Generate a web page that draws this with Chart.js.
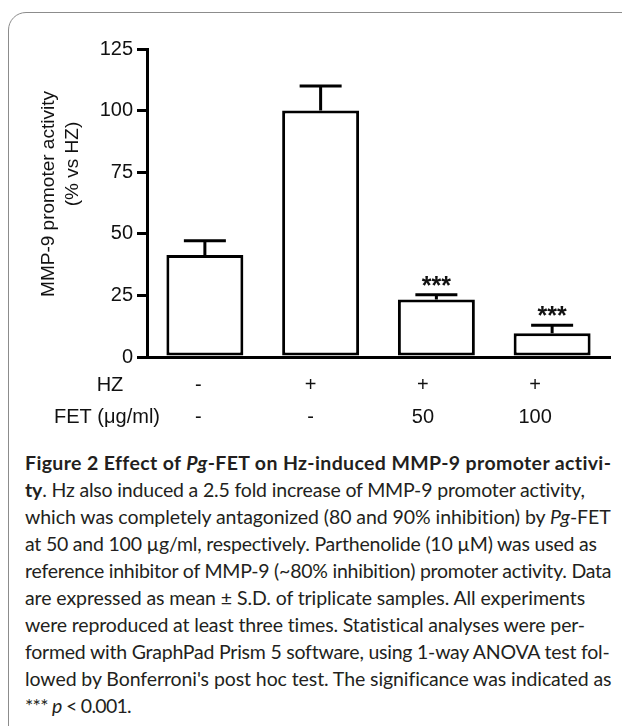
<!DOCTYPE html>
<html>
<head>
<meta charset="utf-8">
<script src="https://cdn.jsdelivr.net/npm/chart.js@4.4.1/dist/chart.umd.min.js"></script>
<style>
  html, body { margin:0; padding:0; background:#fff; width:622px; height:726px; overflow:hidden; }
  #frame { position:absolute; left:8px; top:12px; width:800px; height:800px;
    border:1.5px solid #8c8c8c; border-top-left-radius:18px; box-sizing:border-box; }
  #chartBox { position:absolute; left:0; top:0; width:622px; height:440px; }
  #caption { position:absolute; left:25px; top:449px; font-family:Lato, "Open Sans", sans-serif;
    font-size:19.5px; line-height:27px; color:#231f20; }
  #caption div { white-space:nowrap; }
  #caption .b { font-weight:bold; }
</style>
</head>
<body>
<div id="frame"></div>
<div id="chartBox"><canvas id="c"></canvas></div>
<div id="caption">
  <div class="b" data-w="586">Figure 2 Effect of <i>Pg</i>-FET on Hz-induced MMP-9 promoter activi-</div>
  <div data-w="560"><b>ty</b>. Hz also induced a 2.5 fold increase of MMP-9 promoter activity,</div>
  <div data-w="586">which was completely antagonized (80 and 90% inhibition) by <i>Pg</i>-FET</div>
  <div data-w="572">at 50 and 100 µg/ml, respectively. Parthenolide (10 µM) was used as</div>
  <div data-w="587">reference inhibitor of MMP-9 (~80% inhibition) promoter activity. Data</div>
  <div data-w="560">are expressed as mean ± S.D. of triplicate samples. All experiments</div>
  <div data-w="561">were reproduced at least three times. Statistical analyses were per-</div>
  <div data-w="584">formed with GraphPad Prism 5 software, using 1-way ANOVA test fol-</div>
  <div data-w="586">lowed by Bonferroni's post hoc test. The significance was indicated as</div>
  <div data-w="106">*** <i>p</i> &lt; 0.001.</div>
</div>
<script>
// ---- data ----
const categories = ['Control', 'HZ', 'HZ + FET 50', 'HZ + FET 100'];
const hzRow = ['-', '+', '+', '+'];
const fetRow = ['-', '-', '50', '100'];
const meanValues = [41.4, 100, 23.3, 9.6];
const sdValues = [5.8, 10.0, 2.0, 3.3];
const significance = ['', '', '***', '***'];
const rowTitles = ['HZ', 'FET (\u03bcg/ml)'];
const yTitleLines = ['MMP-9 promoter activity', '(% vs HZ)'];
const yMin = 0, yMax = 125, yStep = 25;

// ---- caption fitting: letter-spacing per line to match the reference line lengths ----
(function fitCaption(){
  document.querySelectorAll('#caption div').forEach(el => {
    const target = parseFloat(el.dataset.w);
    el.style.display = 'inline-block';
    const w = el.getBoundingClientRect().width;
    el.style.display = 'block';
    const n = el.textContent.length;
    el.style.letterSpacing = ((target - w) / n) + 'px';
  });
})();

const FONT = '"Liberation Sans", Arial, sans-serif';
const INK = '#111';

const decorPlugin = {
  id: 'decor',
  afterDatasetsDraw(chart) {
    const ctx = chart.ctx;
    const ys = chart.scales.y;
    const meta = chart.getDatasetMeta(0);
    ctx.save();
    // error bars (upper only)
    ctx.strokeStyle = '#000';
    ctx.lineWidth = 3;
    meta.data.forEach((bar, i) => {
      const yTop = ys.getPixelForValue(meanValues[i] + sdValues[i]);
      const yBar = ys.getPixelForValue(meanValues[i]);
      ctx.beginPath();
      ctx.moveTo(bar.x, yBar);
      ctx.lineTo(bar.x, yTop);
      ctx.moveTo(bar.x - 21, yTop);
      ctx.lineTo(bar.x + 21, yTop);
      ctx.stroke();
      if (significance[i]) {
        ctx.fillStyle = INK;
        ctx.font = 'bold 25px ' + FONT;
        ctx.textAlign = 'center';
        ctx.textBaseline = 'alphabetic';
        ctx.fillText(significance[i], bar.x, yTop - 1);
      }
    });
    // condition rows under the axis
    ctx.fillStyle = INK;
    ctx.font = '20px ' + FONT;
    ctx.textAlign = 'center';
    ctx.textBaseline = 'middle';
    const left = chart.chartArea.left;
    const row1 = chart.chartArea.bottom + 28;
    const row2 = chart.chartArea.bottom + 60;
    meta.data.forEach((bar, i) => {
      const lx = left + (bar.x - left) * 0.97 - 4.8;
      ctx.fillText(hzRow[i], lx, row1);
      ctx.fillText(fetRow[i], lx, row2);
    });
    ctx.fillText(rowTitles[0], 110, row1);
    ctx.fillText(rowTitles[1], 107, row2);
    // y-axis title (two lines, rotated)
    ctx.font = '19px ' + FONT;
    ctx.save();
    ctx.translate(49, 194);
    ctx.rotate(-Math.PI / 2);
    ctx.fillText(yTitleLines[0], 0, 0);
    ctx.restore();
    ctx.save();
    ctx.translate(73, 164);
    ctx.rotate(-Math.PI / 2);
    ctx.fillText(yTitleLines[1], 0, 0);
    ctx.restore();
    ctx.restore();
  }
};

new Chart(document.getElementById('c'), {
  type: 'bar',
  data: {
    labels: categories,
    datasets: [{
      data: meanValues,
      backgroundColor: '#fff',
      borderColor: '#000',
      borderWidth: 3,
      borderSkipped: false,
      barPercentage: 0.665,
      categoryPercentage: 1.0
    }]
  },
  options: {
    responsive: true,
    maintainAspectRatio: false,
    animation: false,
    devicePixelRatio: 1,
    layout: { padding: { left: 0, top: 49, right: 12, bottom: 83 } },
    plugins: { legend: { display: false }, tooltip: { enabled: false }, title: { display: false } },
    scales: {
      x: {
        grid: { display: false },
        border: { display: true, color: '#000', width: 3 },
        ticks: { display: false },
        afterFit(s) { s.height = 0; }
      },
      y: {
        min: yMin, max: yMax,
        ticks: { stepSize: yStep, padding: 4, color: INK, font: { family: FONT, size: 20 } },
        grid: { drawOnChartArea: false, drawTicks: true, tickLength: 10, color: '#000', lineWidth: 3 },
        border: { display: true, color: '#000', width: 3 },
        afterFit(s) { s.width = 147; }
      }
    }
  },
  plugins: [decorPlugin]
});
</script>
</body>
</html>
